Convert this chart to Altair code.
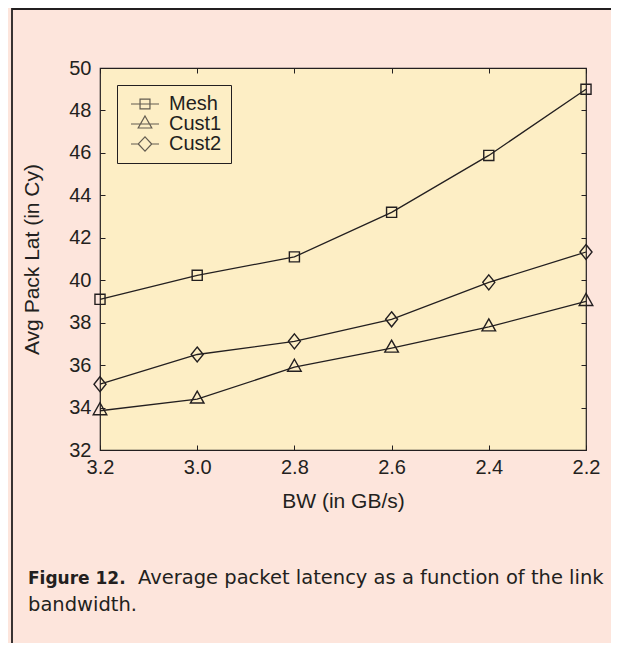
import altair as alt
import pandas as pd

# ---- data ----
bw = [3.2, 3.0, 2.8, 2.6, 2.4, 2.2]
series = ["Mesh", "Cust1", "Cust2"]
mesh = [39.1, 40.23, 41.1, 43.2, 45.88, 49.0]
cust1 = [33.85, 34.4, 35.9, 36.8, 37.8, 39.0]
cust2 = [35.1, 36.5, 37.12, 38.16, 39.9, 41.33]
y_ticks = [32, 34, 36, 38, 40, 42, 44, 46, 48, 50]
x_title = "BW (in GB/s)"
y_title = "Avg Pack Lat (in Cy)"
cap_bold = "Figure 12."
cap_line1 = "Average packet latency as a function of the link"
cap_line2 = "bandwidth."

rows = []
for name, vals in zip(series, [mesh, cust1, cust2]):
    for b, v in zip(bw, vals):
        rows.append({"bw": b, "lat": v, "series": name})
df = pd.DataFrame(rows)

INK = "#231f20"
PLOT_BG = "#fdeec5"
PAGE_BG = "#fde5dc"
FONT = "Liberation Sans"

# marker paths (data) and legend paths (with line through)
pt_paths = [
    "M-0.72,-0.72H0.72V0.72H-0.72Z",
    "M0,-1.14L0.97,0.57L-0.97,0.57Z",
    "M0,-1.07L0.86,0L0,1.07L-0.86,0Z",
]
lg_paths = [
    "M-1.75,0H1.75M-0.62,-0.62H0.62V0.62H-0.62Z",
    "M-1.75,0H1.75M0,-1L0.85,0.5L-0.85,0.5Z",
    "M-1.75,0H-0.84L0,-0.88L0.84,0L0,0.88L-0.84,0M0.84,0H1.75",
]

xscale = alt.Scale(domain=[2.2, 3.2], reverse=True, nice=False, zero=False)
yscale = alt.Scale(domain=[32, 50], nice=False, zero=False)

common_axis = dict(
    grid=False, domain=False, tickSize=5, offset=-5, tickColor=INK,
    labelFont=FONT, labelFontSize=20, labelColor=INK, labelFlush=False,
    titleFont=FONT, titleFontSize=21, titleColor=INK, titleFontWeight="normal",
)

x_bottom = alt.Axis(orient="bottom", values=bw, format=".1f", title=x_title,
                    labelPadding=7, titlePadding=13, **common_axis)
y_left = alt.Axis(orient="left", values=y_ticks, format="d", title=y_title,
                  labelPadding=9, titlePadding=26, **common_axis)
x_top = alt.Axis(orient="top", values=bw, labels=False, title=None,
                 grid=False, domain=False, tickSize=5, offset=-5, tickColor=INK)
y_right = alt.Axis(orient="right", values=y_ticks, labels=False, title=None,
                   grid=False, domain=False, tickSize=5, offset=-5, tickColor=INK)

base = alt.Chart(df)

lines = base.mark_line(color=INK, strokeWidth=1.3).encode(
    x=alt.X("bw:Q", scale=xscale, axis=x_bottom),
    y=alt.Y("lat:Q", scale=yscale, axis=y_left),
    detail="series:N",
)

points = base.mark_point(filled=False, stroke=INK, strokeWidth=1.4, size=196, opacity=1).encode(
    x=alt.X("bw:Q", scale=xscale, axis=x_top),
    y=alt.Y("lat:Q", scale=yscale, axis=y_right),
    shape=alt.Shape("series:N", scale=alt.Scale(domain=series, range=pt_paths), legend=None),
)

legend_layer = base.transform_filter("false").mark_point(
    filled=False, stroke=INK, strokeWidth=1.3
).encode(
    x=alt.X("bw:Q", scale=xscale, axis=None),
    y=alt.Y("lat:Q", scale=yscale, axis=None),
    shape=alt.Shape(
        "series:N",
        scale=alt.Scale(domain=series, range=lg_paths),
        legend=alt.Legend(
            title=None, orient="none", legendX=17, legendY=17,
            strokeColor=INK, fillColor=PLOT_BG, padding=9,
            labelFont=FONT, labelFontSize=20, labelColor=INK,
            symbolSize=256, symbolStrokeWidth=1.2, symbolStrokeColor=INK,
            symbolFillColor="transparent", symbolOffset=9, labelOffset=14,
            rowPadding=-2,
        ),
    ),
)

one = pd.DataFrame({"k": [0]})
cap1 = alt.Chart(one).mark_text(
    align="left", baseline="alphabetic", font="DejaVu Sans", fontSize=17,
    fontWeight="bold", color=INK
).encode(x=alt.value(-72), y=alt.value(516), text=alt.value(cap_bold))
cap2 = alt.Chart(one).mark_text(
    align="left", baseline="alphabetic", font="DejaVu Sans", fontSize=19.5, color=INK
).encode(x=alt.value(38), y=alt.value(516), text=alt.value(cap_line1))
cap3 = alt.Chart(one).mark_text(
    align="left", baseline="alphabetic", font="DejaVu Sans", fontSize=19.5, color=INK
).encode(x=alt.value(-72), y=alt.value(543), text=alt.value(cap_line2))

frame_v = alt.Chart(one).mark_rule(color=INK, strokeWidth=1.8).encode(
    x=alt.value(-88), y=alt.value(-60), y2=alt.value(600))
frame_h = alt.Chart(one).mark_rule(color=INK, strokeWidth=1.8).encode(
    x=alt.value(-88), x2=alt.value(600), y=alt.value(-59))

chart = alt.layer(
    lines, points, legend_layer, cap1, cap2, cap3, frame_v, frame_h
).resolve_scale(shape="independent").resolve_axis(
    x="independent", y="independent"
).properties(
    width=486, height=382,
    autosize=alt.AutoSizeParams(type="none"),
    padding={"left": 92, "top": 60, "right": 25, "bottom": 193},
    background=PAGE_BG,
).configure_view(
    fill=PLOT_BG, stroke=INK, strokeWidth=1.2
)

chart.save("out.html", embed_options={"renderer": "svg", "actions": False})
